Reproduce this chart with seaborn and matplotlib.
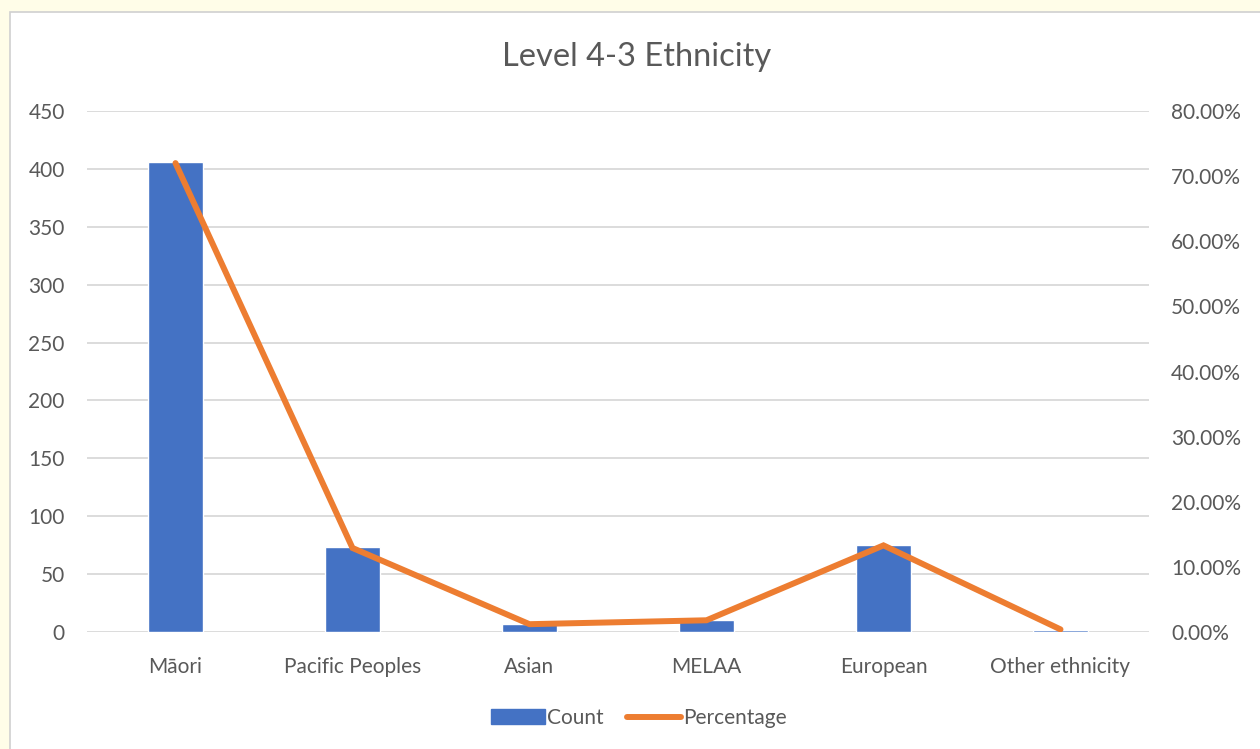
import matplotlib
matplotlib.use("Agg")
import matplotlib.pyplot as plt
import matplotlib.patches as mpatches
from matplotlib.lines import Line2D
from matplotlib.ticker import FuncFormatter, MultipleLocator
import seaborn as sns
import pandas as pd

# data
categories = ["Māori", "Pacific Peoples", "Asian", "MELAA", "European", "Other ethnicity"]
counts = [406, 73, 7, 10, 75, 2]
percentages = [0.720, 0.129, 0.012, 0.018, 0.133, 0.004]

df = pd.DataFrame({"Ethnicity": categories, "Count": counts, "Percentage": percentages})

BLUE = "#4472C4"
ORANGE = "#ED7D31"
TEXT = "#595959"
GRID = "#D9D9D9"

sns.set_style("white")
plt.rcParams["font.family"] = ["Lato", "DejaVu Sans"]

fig = plt.figure(figsize=(12.6, 7.49), dpi=100)
fig.patch.set_facecolor("#FFFDE8")

# white chart area with thin grey border
fig.patches.append(mpatches.Rectangle((10 / 1260, -0.01), 1.02, 1 - 12 / 749 + 0.01,
                                      transform=fig.transFigure, facecolor="white",
                                      edgecolor="#D0D0D0", linewidth=1.2, zorder=-10))

ax = fig.add_axes([87 / 1260, 117 / 749, 1062 / 1260, 521 / 749])
ax.set_facecolor("none")

sns.barplot(data=df, x="Ethnicity", y="Count", color=BLUE, saturation=1,
            width=0.31, ax=ax, zorder=2)
ax.set_ylim(0, 450)
ax.yaxis.set_major_locator(MultipleLocator(50))
ax.grid(axis="y", color=GRID, linewidth=1.3, zorder=0)
ax.set_axisbelow(True)
ax.set_xlabel("")
ax.set_ylabel("")
ax.set_xlim(-0.5, len(categories) - 0.5)

ax2 = ax.twinx()
sns.lineplot(x=list(range(len(categories))), y=percentages, color=ORANGE,
             linewidth=4.3, ax=ax2, solid_capstyle="round", solid_joinstyle="miter")
ax2.set_ylim(0, 0.8)
ax2.yaxis.set_major_locator(MultipleLocator(0.1))
ax2.yaxis.set_major_formatter(FuncFormatter(lambda v, p: f"{v * 100:.2f}%"))
ax2.set_ylabel("")

for a in (ax, ax2):
    for s in a.spines.values():
        s.set_visible(False)
    a.tick_params(length=0, labelsize=15, labelcolor=TEXT)
ax.tick_params(axis="y", pad=16)
ax.tick_params(axis="x", pad=18)
ax2.tick_params(axis="y", pad=16)

fig.text(0.505, 1 - 57 / 749, "Level 4-3 Ethnicity", ha="center", va="center",
         fontsize=23.5, color=TEXT)

handles = [mpatches.Patch(color=BLUE, label="Count"),
           Line2D([0], [0], color=ORANGE, linewidth=4.3, label="Percentage")]
fig.legend(handles=handles, loc="center", bbox_to_anchor=(0.507, 1 - 718 / 749),
           ncol=2, frameon=False, fontsize=15, labelcolor=TEXT,
           handlelength=2.6, handletextpad=0.1, columnspacing=1.1)

fig.savefig("out.png", dpi=100)
